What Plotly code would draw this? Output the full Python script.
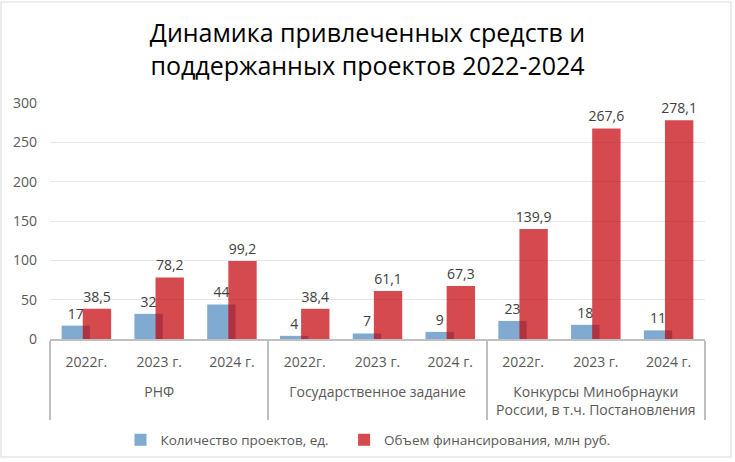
import plotly.graph_objects as go

groups = ["РНФ", "Государственное задание", "Конкурсы Минобрнауки<br>России, в т.ч. Постановления"]
years = ["2022г.", "2023 г.", "2024 г."]
projects = [17, 32, 44, 4, 7, 9, 23, 18, 11]
funding = [38.5, 78.2, 99.2, 38.4, 61.1, 67.3, 139.9, 267.6, 278.1]
funding_labels = ["38,5", "78,2", "99,2", "38,4", "61,1", "67,3", "139,9", "267,6", "278,1"]
series_names = ["Количество проектов, ед.", "Объем финансирования, млн руб."]

# a leading line break drops the group labels below the year labels, as in the reference
xg = ["<br>" + g for g in groups for _ in years]
xy = [y for _ in groups for y in years]

FONT = "Open Sans"
fig = go.Figure()
fig.add_trace(go.Bar(
    x=[xg, xy], y=projects, name=series_names[0] + "\u00a0\u00a0\u00a0",
    marker=dict(color="#81AAD0", line=dict(width=0)),
    offset=-0.34, width=0.39,
    text=[str(v) for v in projects], textposition="outside", constraintext="none",
    textfont=dict(size=14, color="#404040", family=FONT),
    cliponaxis=False,
))
fig.add_trace(go.Bar(
    x=[xg, xy], y=funding, name=series_names[1],
    marker=dict(color="rgba(196,0,5,0.71)", line=dict(width=0)),
    offset=-0.05, width=0.39,
    text=funding_labels, textposition="outside", constraintext="none",
    textfont=dict(size=14, color="#404040", family=FONT),
    cliponaxis=False,
))

fig.update_layout(
    width=735, height=462,
    barmode="overlay",
    paper_bgcolor="white", plot_bgcolor="white",
    margin=dict(l=50, r=30, t=103, b=123, autoexpand=False),
    font=dict(family=FONT, color="#595959", size=14),
    title=dict(
        text="Динамика привлеченных средств и<br>поддержанных проектов 2022-2024",
        x=0.5, xanchor="center", y=1 - 42 / 462, yanchor="middle", yref="container",
        font=dict(family=FONT, size=25, color="#000000"),
    ),
    legend=dict(
        orientation="h", x=(368 - 50) / 655, xanchor="center", y=-(440 - 339) / 236, yanchor="middle",
        font=dict(size=13.5, color="#595959", family=FONT),
        traceorder="normal",
    ),
    showlegend=True,
)
fig.update_yaxes(
    range=[0, 300], dtick=50, showgrid=True, gridcolor="#E6E6E6", gridwidth=1,
    zeroline=False, showline=False, ticks="",
    tickfont=dict(size=14, color="#595959"), ticklabelstandoff=12,
)
fig.update_xaxes(
    type="multicategory", showline=True, linecolor="#BFBFBF", linewidth=1.5,
    showdividers=True, dividercolor="#BFBFBF", dividerwidth=1.5,
    ticks="", tickfont=dict(size=14, color="#595959"), ticklabelstandoff=9,
)
fig.add_shape(type="rect", xref="paper", yref="paper",
              x0=-49/655, x1=(731-50)/655, y0=-(457-339)/236, y1=(339-2)/236,
              line=dict(color="#D9D9D9", width=1), fillcolor="rgba(0,0,0,0)", layer="below")

fig.write_html("out.html", config={"displayModeBar": False},
               post_script="document.body.style.margin='0';")
